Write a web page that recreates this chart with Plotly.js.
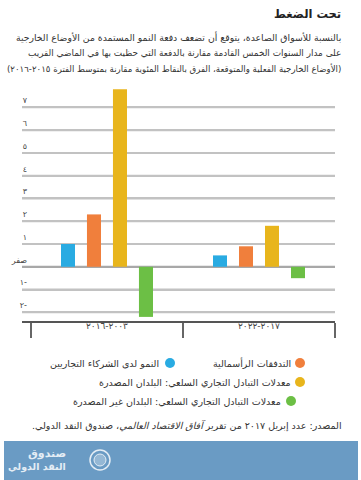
<!DOCTYPE html>
<html>
<head>
<meta charset="utf-8">
<script src="https://cdn.plot.ly/plotly-3.0.1.min.js"></script>
<style>html,body{margin:0;padding:0;background:#fff;}#chart{width:361px;height:480px;}</style>
</head>
<body>
<div id="chart"></div>
<script>
// ---- data ----
const categories = ["٢٠٠٣-٢٠١٦", "٢٠١٧-٢٠٢٢"];
const seriesNames = [
  "النمو لدى الشركاء التجاريين",
  "التدفقات الرأسمالية",
  "معدلات التبادل التجاري السلعي: البلدان المصدرة",
  "معدلات التبادل التجاري السلعي: البلدان غير المصدرة"
];
const tradePartnerGrowth = [1.0, 0.5];
const capitalFlows = [2.3, 0.9];
const totExporters = [7.8, 1.8];
const totNonExporters = [-2.2, -0.5];
const yTickValues = [-2, -1, 0, 1, 2, 3, 4, 5, 6, 7];
const yTickLabels = ["-٢", "-١", "صفر", "١", "٢", "٣", "٤", "٥", "٦", "٧"];
const colors = ["#29abe2", "#f07f3c", "#e8b51c", "#6cbf45"];

const titleText = "تحت الضغط";
const subtitleLines = [
  "بالنسبة للأسواق الصاعدة، يتوقع أن تضعف دفعة النمو المستمدة من الأوضاع الخارجية",
  "على مدار السنوات الخمس القادمة مقارنة بالدفعة التي حظيت بها في الماضي القريب",
  "(الأوضاع الخارجية الفعلية والمتوقعة، الفرق بالنقاط المئوية مقارنة بمتوسط الفترة ٢٠١٥-٢٠١٦)"
];
const sourceText = "المصدر: عدد إبريل ٢٠١٧ من تقرير <i>آفاق الاقتصاد العالمي</i>، صندوق النقد الدولي.";

// ---- layout helpers ----
const L = 22, R = 335, T = 88, B = 321;
const fx = x => (x - L) / (R - L);
const fy = y => (B - y) / (B - T);
const rtl = s => "\u202B" + s + "\u202C";
const FONT = "DejaVu Sans, sans-serif";

const allSeries = [tradePartnerGrowth, capitalFlows, totExporters, totNonExporters];
const traces = allSeries.map((vals, i) => ({
  type: "bar",
  x: categories,
  y: vals,
  name: seriesNames[i],
  marker: {color: colors[i]},
  showlegend: false,
  hoverinfo: "skip"
}));

const shapes = [];
// horizontal gridlines at the y tick values, placed through the y scale
yTickValues.forEach(v => shapes.push({type:"line", xref:"paper", x0:0, x1:1, yref:"y", y0:v, y1:v,
  line:{color: v === 0 ? "#a8a8a8" : "#c2c2c2", width:2}, layer:"below"}));

const annotations = [];
annotations.push({xref:"paper", yref:"paper", x: fx(343), y: fy(14), xanchor:"right", yanchor:"middle",
  text: "<b>" + rtl(titleText) + "</b>", showarrow:false, font:{family:FONT, size:11.5, color:"#222"}});
const subY = [37.5, 53, 68.5];
const subSize = [9.3, 8.9, 8.6];
subtitleLines.forEach((s, i) => annotations.push({xref:"paper", yref:"paper", x: fx(343), y: fy(subY[i]),
  xanchor:"right", yanchor:"middle", text: rtl(s), showarrow:false, font:{family:FONT, size:subSize[i], color:"#333"}}));

// custom legend (RTL: marker at right of label)
const legPos = [
  {cx:170, cy:363, tx:161},
  {cx:300, cy:363, tx:293},
  {cx:300, cy:382, tx:293},
  {cx:291, cy:401, tx:283}
];
seriesNames.forEach((n, i) => {
  const p = legPos[i];
  shapes.push({type:"circle", xref:"paper", yref:"paper", x0: fx(p.cx-5), x1: fx(p.cx+5),
    y0: fy(p.cy+5), y1: fy(p.cy-5), fillcolor: colors[i], line:{width:0}});
  annotations.push({xref:"paper", yref:"paper", x: fx(p.tx), y: fy(p.cy), xanchor:"right", yanchor:"middle",
    text: rtl(n), showarrow:false, font:{family:FONT, size:9.5, color:"#333"}});
});

annotations.push({xref:"paper", yref:"paper", x: fx(344), y: fy(426), xanchor:"right", yanchor:"middle",
  text: rtl(sourceText), showarrow:false, font:{family:FONT, size:9.5, color:"#333"}});

// footer banner
shapes.push({type:"rect", xref:"paper", yref:"paper", x0: fx(4), x1: fx(358), y0: fy(480), y1: fy(441),
  fillcolor:"#6a9bc4", line:{width:0}, layer:"above"});
shapes.push({type:"circle", xref:"paper", yref:"paper", x0: fx(90), x1: fx(110), y0: fy(470), y1: fy(450),
  fillcolor:"rgba(0,0,0,0)", line:{color:"#e4edf5", width:1.5}, layer:"above"});
shapes.push({type:"circle", xref:"paper", yref:"paper", x0: fx(94), x1: fx(106), y0: fy(466), y1: fy(454),
  fillcolor:"rgba(228,237,245,0.35)", line:{color:"#e4edf5", width:1}, layer:"above"});
annotations.push({xref:"paper", yref:"paper", x: fx(68), y: fy(453), xanchor:"right", yanchor:"middle",
  text: "<b>" + rtl("صندوق") + "</b>", showarrow:false, font:{family:FONT, size:11, color:"#e4edf5"}});
annotations.push({xref:"paper", yref:"paper", x: fx(68), y: fy(467), xanchor:"right", yanchor:"middle",
  text: "<b>" + rtl("النقد الدولي") + "</b>", showarrow:false, font:{family:FONT, size:9.5, color:"#e4edf5"}});

const layout = {
  width: 361, height: 480,
  margin: {l: L, r: 361 - R, t: T, b: 480 - B, pad: 0},
  paper_bgcolor: "#ffffff", plot_bgcolor: "rgba(0,0,0,0)",
  barmode: "group", bargap: 0.316, bargroupgap: 0.46,
  font: {family: FONT, color: "#444"},
  xaxis: {
    type: "category", range: [-0.559, 1.5], tickson: "boundaries",
    ticks: "outside", ticklen: 15, tickwidth: 1.5, tickcolor: "#666",
    showline: true, linecolor: "#555", linewidth: 2, showgrid: false, zeroline: false,
    tickfont: {family: FONT, size: 9, color: "#444"}, ticklabelstandoff: -5,
    fixedrange: true
  },
  yaxis: {
    range: [-2.38, 7.85], tickmode: "array", tickvals: yTickValues, ticktext: yTickLabels.map(rtl),
    showgrid: true, gridcolor: "#c2c2c2", gridwidth: 2,
    zeroline: true, zerolinecolor: "#a8a8a8", zerolinewidth: 2,
    showline: false, ticks: "", ticklabelshift: -7, ticklabelstandoff: -6,
    tickfont: {family: FONT, size: 8, color: "#444"}, fixedrange: true
  },
  annotations: annotations,
  shapes: shapes
};

Plotly.newPlot("chart", traces, layout, {displayModeBar: false, staticPlot: true});
</script>
</body>
</html>
